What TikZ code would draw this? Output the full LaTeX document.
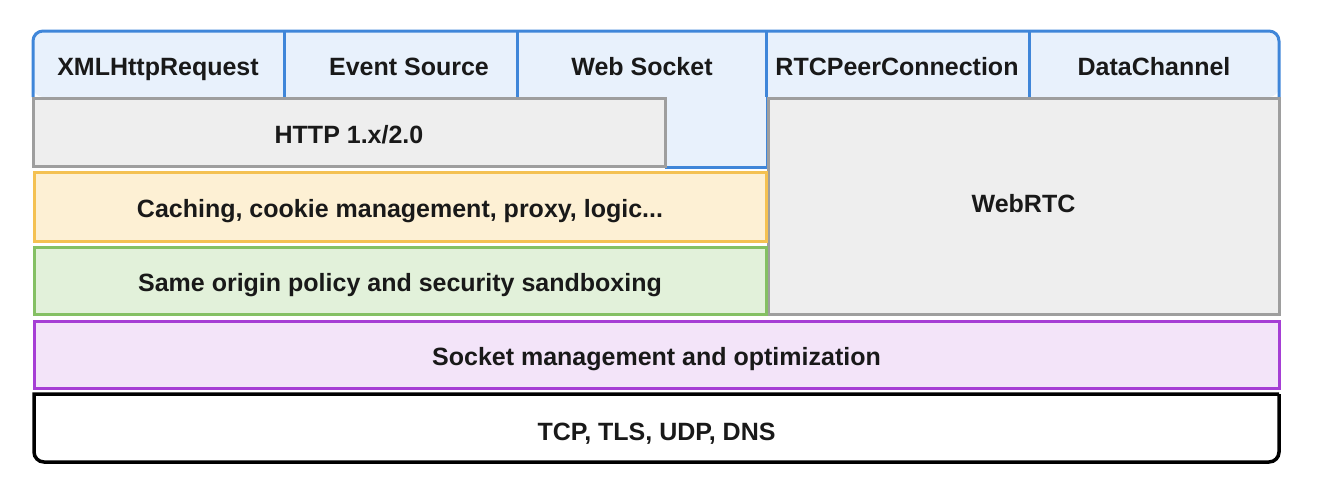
\documentclass[tikz,border=0pt]{standalone}
\usepackage{fontspec}
\setmainfont{Liberation Sans}
\usetikzlibrary{positioning,calc}
\definecolor{blueln}{HTML}{3F86D9}
\definecolor{bluesoft}{HTML}{E8F1FC}
\definecolor{grayln}{HTML}{9E9E9E}
\definecolor{graysoft}{HTML}{EEEEEE}
\definecolor{orangeln}{HTML}{F4C152}
\definecolor{orangesoft}{HTML}{FDF0D4}
\definecolor{greenln}{HTML}{84C063}
\definecolor{greensoft}{HTML}{E2F1DA}
\definecolor{purpleln}{HTML}{A63ED5}
\definecolor{purplesoft}{HTML}{F3E4F9}
\begin{document}
\begin{tikzpicture}[x=1pt, y=-1pt, line width=3pt,
  txt/.style={font=\bfseries\fontsize{25}{30}\selectfont, text=black!90, inner sep=0pt, text height=22pt, text depth=0pt},
  lyr/.style={txt, rectangle, line width=3pt, minimum width=#1},
  api/.style={txt}]
\useasboundingbox (0,0) rectangle (1324,480);
% api row on top
\fill[bluesoft, rounded corners=10pt] (33,97) -- (33,31) -- (1279,31) -- (1279,97) -- cycle;
\fill[bluesoft] (665,97) rectangle (766,167);
\node[api] (xhr) at (158,64) {XMLHttpRequest};
\node[api] (evs) at (409,64) {Event Source};
\node[api] (wsk) at (642,64) {Web Socket};
\node[api] (rtc) at (897,64) {RTCPeerConnection};
\node[api] (dch) at (1154,64) {DataChannel};
\draw[blueln, rounded corners=10pt] (33,97) -- (33,31) -- (1279,31) -- (1279,97);
\foreach \xx in {284,517,766,1029} \draw[blueln] (\xx,31) -- (\xx,97);
\draw[blueln] (665,167) -- (767,167) -- (767,97);
% layers
\node[lyr=632pt, draw=grayln, fill=graysoft, minimum height=68pt] (http) at (349,132) {HTTP 1.x/2.0};
\node[lyr=511pt, draw=grayln, fill=graysoft, minimum height=216pt, text height=18pt, text depth=6pt] (webrtc) at (1023.5,206) {WebRTC};
\node[lyr=732pt, draw=orangeln, fill=orangesoft, minimum height=69pt] (cache) at (400,206.5) {Caching, cookie management, proxy, logic...};
\node[lyr=732pt, draw=greenln, fill=greensoft, minimum height=67pt] (sop) at (400,280.5) {Same origin policy and security sandboxing};
\node[lyr=1245pt, draw=purpleln, fill=purplesoft, minimum height=67pt] (sock) at (656.5,354.5) {Socket management and optimization};
\draw[black, line width=3.5pt] (1279,394) -- (34,394) [rounded corners=10pt] -- (34,462) -- (1279,462) -- (1279,394);
\node[txt] (net) at (656.5,429) {TCP, TLS, UDP, DNS};
\end{tikzpicture}
\end{document}
